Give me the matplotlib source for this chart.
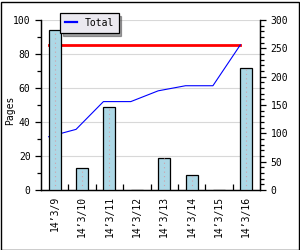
import matplotlib
matplotlib.use("Agg")
import matplotlib.pyplot as plt
from matplotlib.patches import Rectangle
from matplotlib.ticker import MultipleLocator, FixedLocator

categories = ["14\u20193/9", "14\u20193/10", "14\u20193/11", "14\u20193/12",
              "14\u20193/13", "14\u20193/14", "14\u20193/15", "14\u20193/16"]
pages = [94, 13, 49, 0, 19, 9, 0, 72]
total_cum = [94, 107, 156, 156, 175, 184, 184, 256]
target = [256, 256, 256, 256, 256, 256, 256, 256]

plt.rcParams['font.family'] = ['DejaVu Sans Mono']
fs = 7

fig = plt.figure(figsize=(3, 2.5), dpi=100)
ax = fig.add_axes([41/300, 1-190/250, 219/300, 170/250])
ax2 = ax.twinx()

x = list(range(len(categories)))
bw = 0.44
xl = [i - bw/2 for i in x]

# lines on right axis (behind bars)
ax2.plot(xl, target, color='#ff0000', lw=2, zorder=1)
line_total, = ax2.plot(xl, total_cum, color='#0000ff', lw=0.8, zorder=1, label='Total')
ax2.set_ylim(0, 300)

ax.set_zorder(ax2.get_zorder() + 1)
ax.patch.set_visible(False)

ax.bar(x, pages, width=bw, color='#add8e6', edgecolor='black', lw=0.9, zorder=3)
for i, v in zip(x, pages):
    if v > 0:
        ax.plot([i, i], [0, v], ls=(0, (1, 3)), color='#d0a0a8', lw=0.8, zorder=4)

ax.set_xlim(-0.5, 7.5)
ax.set_ylim(0, 100)
ax.yaxis.set_major_locator(MultipleLocator(20))
ax.yaxis.set_minor_locator(MultipleLocator(10))
ax2.set_yticks([0, 50, 100, 150, 200, 250, 300])
for gy in [20, 40, 60, 80, 100]:
    ax2.axhline(gy * 3, color='#d8d8d8', lw=0.8, zorder=0)

ax2.yaxis.set_minor_locator(MultipleLocator(10))

ax.set_xticks(x)
ax.set_xticklabels(categories, rotation=90, fontsize=fs)
ax.xaxis.set_minor_locator(FixedLocator([i + 0.5 for i in range(7)]))
ax.tick_params(axis='x', which='major', length=0, pad=4)
ax.tick_params(axis='x', which='minor', direction='in', length=4, width=0.9)
ax.tick_params(axis='y', which='both', direction='out', labelsize=fs, width=0.9)
ax.tick_params(axis='y', which='major', length=4)
ax.tick_params(axis='y', which='minor', length=3)
ax2.tick_params(axis='y', which='both', direction='out', labelsize=fs, width=0.9)
ax2.tick_params(axis='y', which='major', length=4)
ax2.tick_params(axis='y', which='minor', length=3)
ax2.tick_params(axis='x', which='both', length=0)

for a in (ax, ax2):
    a.spines['top'].set_visible(False)
    for s in ('left', 'right', 'bottom'):
        a.spines[s].set_linewidth(0.9)

ax.set_ylabel('Pages', fontsize=fs)
ax.yaxis.set_label_coords(-26/219, 0.47)

# legend with shadow, drawn on top axes
leg = ax.legend(handles=[line_total], labels=['Total'], loc='upper left',
                bbox_to_anchor=(19/219, 1 + 7/170), fontsize=fs,
                frameon=True, fancybox=False, shadow=True, handlelength=1.2,
                handletextpad=0.8, borderpad=0.5, borderaxespad=0)
leg.get_frame().set_facecolor('#ebe9f0')
leg.get_frame().set_edgecolor('black')
leg.get_frame().set_linewidth(0.9)
leg.get_frame().set_alpha(1)
for l in leg.get_lines():
    l.set_linewidth(1.6)
leg.set_zorder(10)

fig.patches.append(Rectangle((0.5/300, 0.5/250), 298/300, 248/250, transform=fig.transFigure,
                             fill=False, edgecolor='black', lw=1))

fig.savefig('out.png', dpi=100)
